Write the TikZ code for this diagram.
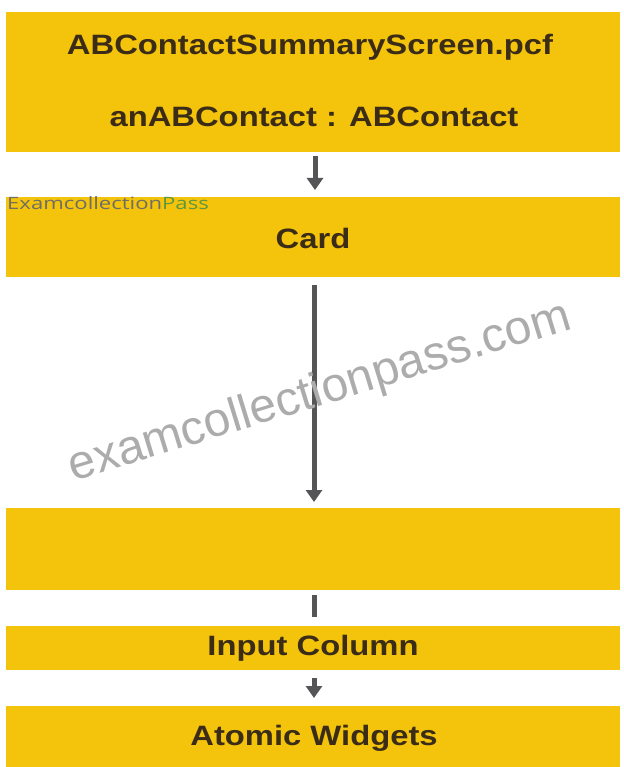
\documentclass[tikz,border=0pt]{standalone}
\usepackage{fontspec}
\setmainfont{Liberation Sans}
\newfontfamily\wmfont{Open Sans}
\usetikzlibrary{arrows.meta}
\definecolor{bandyellow}{RGB}{244,195,12}
\definecolor{txtdark}{RGB}{58,44,22}
\definecolor{arrowgray}{RGB}{85,85,88}
\definecolor{wmgray}{RGB}{110,110,100}
\definecolor{wmgreen}{RGB}{96,150,60}
\begin{document}
\begin{tikzpicture}[x=1pt,y=-1pt,
  band/.style={fill=bandyellow,draw=none,minimum width=614pt,inner sep=0pt,outer sep=0pt},
  lbl/.style={font=\fontsize{28}{32}\selectfont\bfseries,text=txtdark,inner sep=0pt},
  conn/.style={draw=arrowgray,line width=5pt,-{Triangle[width=16pt,length=12pt]}},
  bar/.style={draw=arrowgray,line width=5pt}
]
\useasboundingbox (0,0) rectangle (623,767);
\fill[white] (0,0) rectangle (623,767);
% bands
\node[band,minimum height=140pt] (b1) at (313,82) {};
\node[band,minimum height=80pt] (b2) at (313,237) {};
\node[band,minimum height=82pt] (b3) at (313,549) {};
\node[band,minimum height=44pt] (b4) at (313,648) {};
\node[band,minimum height=61pt] (b5) at (313,736.5) {};
% labels
\node[lbl] (t1) at (310,47) {\scalebox{1.17}[1]{ABContactSummaryScreen.pcf}};
\node[lbl] (t2) at (314,117) {\scalebox{1.17}[1]{anABContact : ABContact}};
\node[lbl] (t3) at (313,238) {\scalebox{1.17}[1]{Card}};
\node[lbl] (t4) at (313,648) {\scalebox{1.17}[1]{Input Column}};
\node[lbl] (t5) at (314,738) {\scalebox{1.17}[1]{Atomic Widgets}};
% connectors
\draw[conn,shorten <=4pt,shorten >=7pt] (b1.south -| 315,0) -- (b2.north -| 315,0);
\draw[conn,shorten <=8pt,shorten >=6pt] (b2.south -| 314,0) -- (b3.north -| 314,0);
\draw[bar,shorten <=5pt,shorten >=9pt] (b3.south -| 314,0) -- (b4.north -| 314,0);
\draw[conn,shorten <=8pt,shorten >=8pt] (b4.south -| 314,0) -- (b5.north -| 314,0);
% watermarks
\node[anchor=north west,inner sep=0pt,font=\wmfont\fontsize{17}{19}\selectfont] (wm1) at (7,196) {\scalebox{1.3}[1]{\textcolor{wmgray}{Examcollection}\textcolor{wmgreen}{Pass}}};
\node[rotate=17,text=gray!65,font=\fontsize{48}{52}\selectfont,inner sep=0pt] (wm2) at (320,393) {examcollectionpass.com};
\end{tikzpicture}
\end{document}
